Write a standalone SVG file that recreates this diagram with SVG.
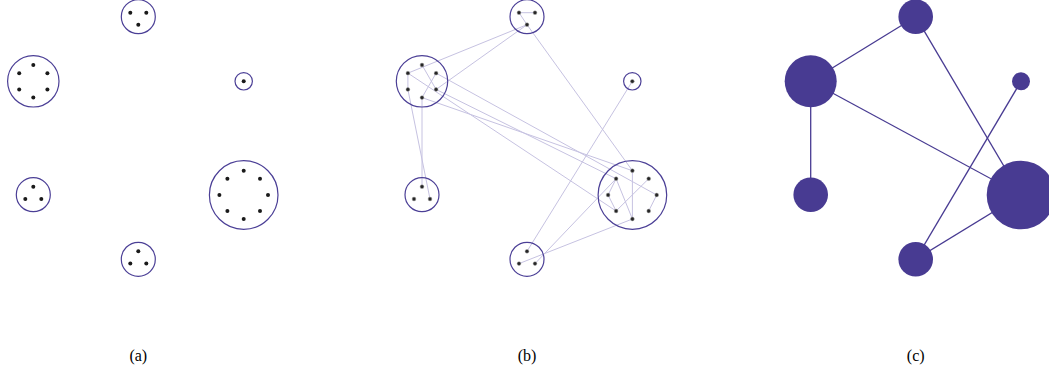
<svg xmlns="http://www.w3.org/2000/svg" width="1049" height="376" viewBox="0 0 1049 376">
<style>
.cl{fill:none;stroke:#4b3f96;stroke-width:1.2}
.d{fill:#1a1a1a}
.db{fill:#262626;stroke:#a0a0a0;stroke-width:0.5}
.e{stroke:#c6c2e1;stroke-width:1;fill:none}
.n{fill:#483b92}
.ec{stroke:#483b92;stroke-width:1.3;fill:none}
.lab{font-family:"Liberation Serif","Times New Roman",serif;font-size:16px;text-anchor:middle;fill:#000}
</style>
<rect width="1049" height="376" fill="#fff"/>

<!-- Panel (a) -->
<g id="a-T"><circle class="cl" cx="138.3" cy="16.7" r="17"/><circle class="d" cx="130.3" cy="12.7" r="2"/><circle class="d" cx="146.3" cy="12.7" r="2"/><circle class="d" cx="138.3" cy="24.7" r="2"/></g>
<g id="a-L"><circle class="cl" cx="33.3" cy="81.3" r="25.7"/><circle class="d" cx="33.3" cy="65" r="2"/><circle class="d" cx="19.2" cy="73.2" r="2"/><circle class="d" cx="47.4" cy="73.2" r="2"/><circle class="d" cx="19.2" cy="89.5" r="2"/><circle class="d" cx="47.4" cy="89.5" r="2"/><circle class="d" cx="33.3" cy="97.6" r="2"/></g>
<g id="a-S"><circle class="cl" cx="243.7" cy="81.3" r="8.7"/><circle class="d" cx="243.7" cy="81.3" r="2"/></g>
<g id="a-BL"><circle class="cl" cx="33.3" cy="194.7" r="17"/><circle class="d" cx="33.3" cy="186.7" r="2"/><circle class="d" cx="25.3" cy="199" r="2"/><circle class="d" cx="41.3" cy="199" r="2"/></g>
<g id="a-R"><circle class="cl" cx="243.7" cy="195" r="34.3"/><circle class="d" cx="243.7" cy="170.7" r="2"/><circle class="d" cx="260" cy="178.7" r="2"/><circle class="d" cx="268" cy="195" r="2"/><circle class="d" cx="260" cy="211" r="2"/><circle class="d" cx="243.7" cy="219" r="2"/><circle class="d" cx="227.4" cy="211" r="2"/><circle class="d" cx="219.4" cy="195" r="2"/><circle class="d" cx="227.4" cy="178.7" r="2"/></g>
<g id="a-Bo"><circle class="cl" cx="138.3" cy="259.3" r="17"/><circle class="d" cx="138.3" cy="251.3" r="2"/><circle class="d" cx="130.3" cy="263.6" r="2"/><circle class="d" cx="146.3" cy="263.6" r="2"/></g>

<!-- Panel (b) connectors -->
<g id="b-edges" class="e">
<line x1="519" y1="12.7" x2="535" y2="12.7"/>
<line x1="519" y1="12.7" x2="527" y2="24.7"/>
<line x1="527" y1="24.7" x2="407.9" y2="73.15"/>
<line x1="527" y1="24.7" x2="436.1" y2="89.45"/>
<line x1="527" y1="24.7" x2="632.4" y2="170.7"/>
<line x1="407.9" y1="73.15" x2="407.9" y2="89.45"/>
<line x1="407.9" y1="89.45" x2="430" y2="199"/>
<line x1="422" y1="97.6" x2="422" y2="186.7"/>
<line x1="436.1" y1="73.15" x2="422" y2="97.6"/>
<line x1="422" y1="65" x2="436.1" y2="89.45"/>
<line x1="407.9" y1="73.15" x2="616.1" y2="211"/>
<line x1="436.1" y1="73.15" x2="656.7" y2="195"/>
<line x1="436.1" y1="89.45" x2="616.1" y2="178.7"/>
<line x1="422" y1="97.6" x2="632.4" y2="170.7"/>
<line x1="632.3" y1="81.3" x2="527" y2="251.3"/>
<line x1="519" y1="263.6" x2="632.4" y2="219"/>
<line x1="535" y1="263.6" x2="616.1" y2="178.7"/>
<line x1="632.4" y1="170.7" x2="632.4" y2="219"/>
<line x1="616.1" y1="178.7" x2="608.1" y2="195"/>
<line x1="608.1" y1="195" x2="616.1" y2="211"/>
<line x1="616.1" y1="178.7" x2="632.4" y2="219"/>
<line x1="648.7" y1="178.7" x2="616.1" y2="211"/>
<line x1="656.7" y1="195" x2="648.7" y2="211"/>
</g>

<!-- Panel (b) nodes -->
<g id="b-T"><circle class="cl" cx="527" cy="16.7" r="17"/><circle class="db" cx="519" cy="12.7" r="1.9"/><circle class="db" cx="535" cy="12.7" r="1.9"/><circle class="db" cx="527" cy="24.7" r="1.9"/></g>
<g id="b-L"><circle class="cl" cx="422" cy="81.3" r="25.7"/><circle class="db" cx="422" cy="65" r="1.9"/><circle class="db" cx="407.9" cy="73.15" r="1.9"/><circle class="db" cx="436.1" cy="73.15" r="1.9"/><circle class="db" cx="407.9" cy="89.45" r="1.9"/><circle class="db" cx="436.1" cy="89.45" r="1.9"/><circle class="db" cx="422" cy="97.6" r="1.9"/></g>
<g id="b-S"><circle class="cl" cx="632.3" cy="81.3" r="8.7"/><circle class="db" cx="632.3" cy="81.3" r="1.9"/></g>
<g id="b-BL"><circle class="cl" cx="422" cy="194.7" r="17"/><circle class="db" cx="422" cy="186.7" r="1.9"/><circle class="db" cx="414" cy="199" r="1.9"/><circle class="db" cx="430" cy="199" r="1.9"/></g>
<g id="b-R"><circle class="cl" cx="632.4" cy="195" r="34.3"/><circle class="db" cx="632.4" cy="170.7" r="1.9"/><circle class="db" cx="648.7" cy="178.7" r="1.9"/><circle class="db" cx="656.7" cy="195" r="1.9"/><circle class="db" cx="648.7" cy="211" r="1.9"/><circle class="db" cx="632.4" cy="219" r="1.9"/><circle class="db" cx="616.1" cy="211" r="1.9"/><circle class="db" cx="608.1" cy="195" r="1.9"/><circle class="db" cx="616.1" cy="178.7" r="1.9"/></g>
<g id="b-Bo"><circle class="cl" cx="527" cy="259.3" r="17"/><circle class="db" cx="527" cy="251.3" r="1.9"/><circle class="db" cx="519" cy="263.6" r="1.9"/><circle class="db" cx="535" cy="263.6" r="1.9"/></g>

<!-- Panel (c) connectors -->
<g id="c-edges" class="ec">
<line x1="810.7" y1="81.3" x2="915.7" y2="16.7"/>
<line x1="810.7" y1="81.3" x2="1021" y2="195"/>
<line x1="810.7" y1="81.3" x2="810.7" y2="194.7"/>
<line x1="915.7" y1="16.7" x2="1021" y2="195"/>
<line x1="1021" y1="81.3" x2="915.7" y2="259.3"/>
<line x1="915.7" y1="259.3" x2="1021" y2="195"/>
</g>
<g id="c-T"><circle class="n" cx="915.7" cy="16.7" r="17.3"/></g>
<g id="c-L"><circle class="n" cx="810.7" cy="81.3" r="26"/></g>
<g id="c-S"><circle class="n" cx="1021" cy="81.3" r="9"/></g>
<g id="c-BL"><circle class="n" cx="810.7" cy="194.7" r="17.3"/></g>
<g id="c-R"><circle class="n" cx="1021" cy="195" r="34.3"/></g>
<g id="c-Bo"><circle class="n" cx="915.7" cy="259.3" r="17.3"/></g>

<text class="lab" x="138.3" y="361">(a)</text>
<text class="lab" x="527" y="361">(b)</text>
<text class="lab" x="915.7" y="361">(c)</text>
</svg>
